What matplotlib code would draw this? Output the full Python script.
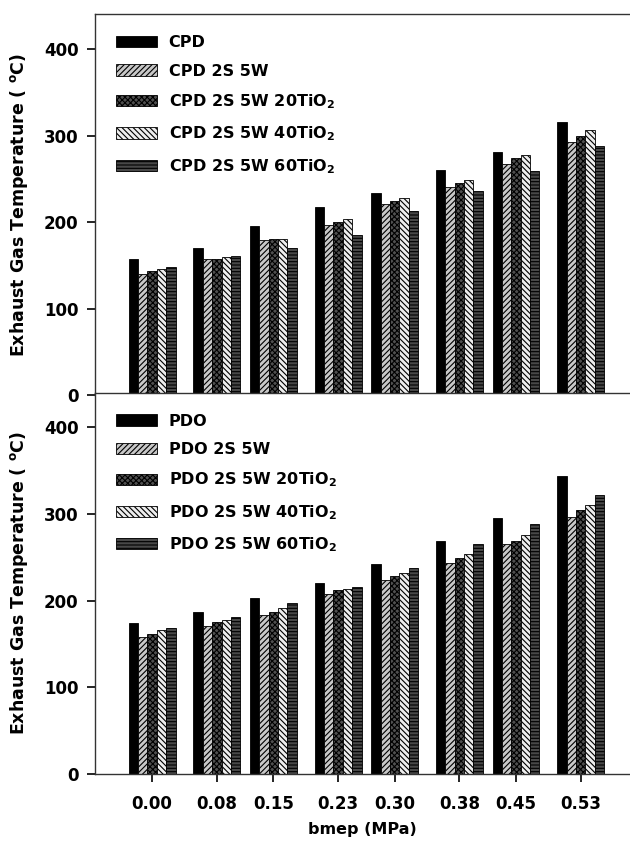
import matplotlib
matplotlib.use("Agg")
import matplotlib.pyplot as plt
import numpy as np

plt.rcParams['font.family'] = ['DejaVu Sans']
plt.rcParams['font.weight'] = 'bold'
plt.rcParams['mathtext.default'] = 'bf'
plt.rcParams['hatch.linewidth'] = 0.8

bmep = [0.00, 0.08, 0.15, 0.23, 0.30, 0.38, 0.45, 0.53]
tick_labels = ["0.00", "0.08", "0.15", "0.23", "0.30", "0.38", "0.45", "0.53"]

cpd_labels = ["CPD", "CPD 2S 5W", "CPD 2S 5W 20TiO$_2$", "CPD 2S 5W 40TiO$_2$", "CPD 2S 5W 60TiO$_2$"]
cpd = [157, 170, 196, 217, 234, 260, 281, 316]
cpd_2s5w = [140, 157, 179, 197, 221, 241, 267, 293]
cpd_20ti = [144, 158, 180, 200, 225, 245, 274, 299]
cpd_40ti = [146, 160, 181, 204, 228, 249, 278, 307]
cpd_60ti = [148, 161, 170, 185, 213, 236, 259, 288]

pdo_labels = ["PDO", "PDO 2S 5W", "PDO 2S 5W 20TiO$_2$", "PDO 2S 5W 40TiO$_2$", "PDO 2S 5W 60TiO$_2$"]
pdo = [174, 187, 203, 220, 242, 269, 295, 344]
pdo_2s5w = [158, 171, 184, 208, 224, 244, 265, 297]
pdo_20ti = [162, 175, 187, 212, 229, 249, 269, 305]
pdo_40ti = [166, 178, 192, 214, 232, 254, 276, 310]
pdo_60ti = [169, 181, 197, 216, 238, 265, 288, 322]

styles = [
    dict(facecolor='black', hatch=None),
    dict(facecolor='#c8c8c8', hatch='//////'),
    dict(facecolor='#505050', hatch='xxxxxx'),
    dict(facecolor='#eeeeee', hatch='\\\\\\\\\\\\'),
    dict(facecolor='#484848', hatch='-----'),
]

fig = plt.figure(figsize=(6.3, 8.43), dpi=100)
ax1 = fig.add_axes([0.151, 0.531, 0.849, 0.452])
ax2 = fig.add_axes([0.151, 0.082, 0.849, 0.452])

w = 0.0116

def draw(ax, series, labels, show_xlabels):
    x = np.array(bmep)
    for i, (vals, lab, st) in enumerate(zip(series, labels, styles)):
        ax.bar(x + (i - 2) * w, vals, width=w, facecolor=st['facecolor'],
               hatch=st['hatch'], edgecolor='black', linewidth=0.6, label=lab)
    ax.set_xlim(-0.0705, 0.591)
    ax.set_ylim(0, 440)
    ax.set_yticks([0, 100, 200, 300, 400])
    ax.set_xticks(bmep)
    if show_xlabels:
        ax.set_xticklabels(tick_labels, fontsize=12, fontweight='bold')
    else:
        ax.set_xticklabels([])
    ax.tick_params(axis='x', direction='out', length=6, width=1.2, labelsize=12, pad=9)
    ax.tick_params(axis='y', direction='out', length=6, width=1.2, labelsize=12, pad=6)
    for lbl in ax.get_yticklabels():
        lbl.set_fontweight('bold')
    ax.spines['right'].set_visible(False)
    for s in ['left', 'bottom', 'top']:
        ax.spines[s].set_linewidth(1.0)
        ax.spines[s].set_color('#333333')
    ax.set_ylabel('Exhaust Gas Temperature ( $^\\mathbf{o}$C)', fontsize=12.5, fontweight='bold')
    ax.yaxis.set_label_coords(-0.122, 0.5)
    ax.legend(loc='upper left', bbox_to_anchor=(0.0, 1.0), frameon=False,
              prop=dict(size=11.5, weight='bold'), handlelength=2.6, handleheight=0.7,
              labelspacing=0.85, borderaxespad=0.9, handletextpad=0.7)

draw(ax1, [cpd, cpd_2s5w, cpd_20ti, cpd_40ti, cpd_60ti], cpd_labels, False)
draw(ax2, [pdo, pdo_2s5w, pdo_20ti, pdo_40ti, pdo_60ti], pdo_labels, True)
ax2.set_xlabel('bmep (MPa)', fontsize=11.5, fontweight='bold')
ax2.xaxis.set_label_coords(0.5, -0.127)

fig.savefig('out.png', dpi=100)
